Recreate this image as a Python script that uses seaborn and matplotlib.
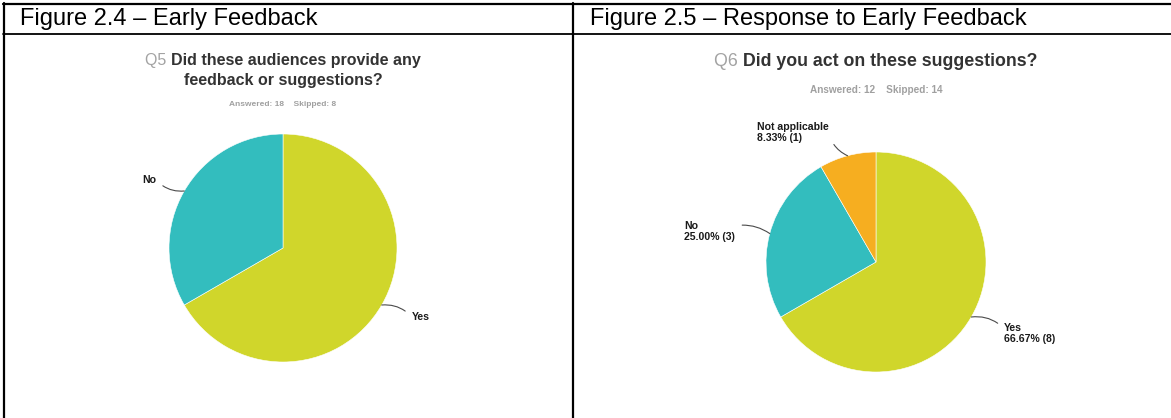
import matplotlib
matplotlib.use("Agg")
import matplotlib.pyplot as plt
from matplotlib.lines import Line2D
import numpy as np
import seaborn as sns

sns.set_theme(style="white")
plt.rcParams["font.family"] = ["Liberation Sans", "DejaVu Sans"]

# ---- survey data -------------------------------------------------------
q5_number = "Q5"
q5_question = ["Did these audiences provide any", "feedback or suggestions?"]
q5_labels = ["Yes", "No"]
q5_counts = [12, 6]
q5_answered, q5_skipped = 18, 8

q6_number = "Q6"
q6_question = ["Did you act on these suggestions?"]
q6_labels = ["Yes", "No", "Not applicable"]
q6_counts = [8, 3, 1]
q6_answered, q6_skipped = 12, 14

fig_titles = ["Figure 2.4 \u2013 Early Feedback",
              "Figure 2.5 \u2013 Response to Early Feedback"]

palette = dict(zip(["Yes", "No", "Not applicable"],
                   sns.color_palette(["#D0D62B", "#33BDBE", "#F6AE20"])))

W, H = 1171, 418
fig = plt.figure(figsize=(W / 100, H / 100), dpi=100)
fig.patch.set_facecolor("white")


def fx(x):
    return x / W


def fy(y):
    return 1 - y / H


# ---- table frame ------------------------------------------------------
def hline(y, x0, x1, lw=1.6):
    fig.add_artist(Line2D([fx(x0), fx(x1)], [fy(y), fy(y)], color="black",
                          lw=lw, transform=fig.transFigure))


def vline(x, y0, y1, lw=1.6):
    fig.add_artist(Line2D([fx(x), fx(x)], [fy(y0), fy(y1)], color="black",
                          lw=lw, transform=fig.transFigure))


hline(4, 3, W)
hline(33.5, 3, W, lw=1.3)
vline(4, 3, H)
vline(573, 3, H)

fig.text(fx(20), fy(19), fig_titles[0], fontsize=17, color="black",
         ha="left", va="center")
fig.text(fx(590), fy(19), fig_titles[1], fontsize=17, color="black",
         ha="left", va="center")

renderer = fig.canvas.get_renderer()


def title_line(cx, cy, prefix, text, size):
    """Centered question line: grey question number + bold dark text."""
    t1 = fig.text(0, fy(cy), prefix + " ", fontsize=size, color="#A3A3A3",
                  ha="left", va="center")
    t2 = fig.text(0, fy(cy), text, fontsize=size, color="#333333",
                  fontweight="bold", ha="left", va="center")
    w1 = t1.get_window_extent(renderer).width
    w2 = t2.get_window_extent(renderer).width
    x0 = cx - (w1 + w2) / 2
    t1.set_x(fx(x0))
    t2.set_x(fx(x0 + w1))


def centered(cx, cy, text, size, **kw):
    fig.text(fx(cx), fy(cy), text, fontsize=size, ha="center", va="center",
             **kw)


def draw_pie(cx, cy, r, labels, counts, with_pct, label_layout):
    ax = fig.add_axes([fx(cx - r), fy(cy + r), 2 * r / W, 2 * r / H])
    wedges, _ = ax.pie(counts, colors=[palette[l] for l in labels],
                       startangle=90, counterclock=False, radius=1,
                       wedgeprops=dict(linewidth=0.4, edgecolor="white"))
    ax.set_xlim(-1, 1)
    ax.set_ylim(-1, 1)
    ax.set_aspect("auto")
    ax.axis("off")
    total = sum(counts)
    for w, lab, c in zip(wedges, labels, counts):
        mid = np.deg2rad((w.theta1 + w.theta2) / 2)
        xy = (np.cos(mid), np.sin(mid))
        txt = lab
        if with_pct:
            txt = f"{lab}\n{c / total * 100:.2f}% ({c})"
        off, ha, va, relpos, rad = label_layout[lab]
        ax.annotate(txt, xy=xy, xytext=off, textcoords="offset pixels",
                    ha=ha, va=va, multialignment="left", fontsize=7.6,
                    fontweight="bold", color="#1A1A1A", linespacing=1.15,
                    annotation_clip=False,
                    arrowprops=dict(arrowstyle="-", color="#4A4A4A", lw=0.8,
                                    shrinkA=3, shrinkB=0, relpos=relpos,
                                    connectionstyle=f"arc3,rad={rad}"))
    return ax


# ---- Q5 ----------------------------------------------------------------
title_line(283, 60, q5_number, q5_question[0], 11.5)
centered(283, 80, q5_question[1], 11.5, color="#333333", fontweight="bold")
centered(283, 104, f"Answered: {q5_answered}    Skipped: {q5_skipped}", 6,
         color="#A0A0A0", fontweight="bold")

draw_pie(283, 248, 114, q5_labels, q5_counts, False, {
    "Yes": ((30, -12), "left", "center", (0, 0.5), 0.25),
    "No": ((-28, 11), "right", "center", (1, 0.5), 0.25),
})

# ---- Q6 ----------------------------------------------------------------
title_line(876, 62, q6_number, q6_question[0], 12.75)
centered(876, 90, f"Answered: {q6_answered}    Skipped: {q6_skipped}", 7.2,
         color="#A0A0A0", fontweight="bold")

draw_pie(876, 262, 110, q6_labels, q6_counts, True, {
    "Yes": ((33, -6), "left", "top", (0, 0.72), 0.25),
    "No": ((-35, 13), "right", "top", (1, 0.75), -0.2),
    "Not applicable": ((-19, 34), "right", "top", (1, 0.75), 0.3),
})

fig.savefig("out.png", dpi=100, facecolor="white")
